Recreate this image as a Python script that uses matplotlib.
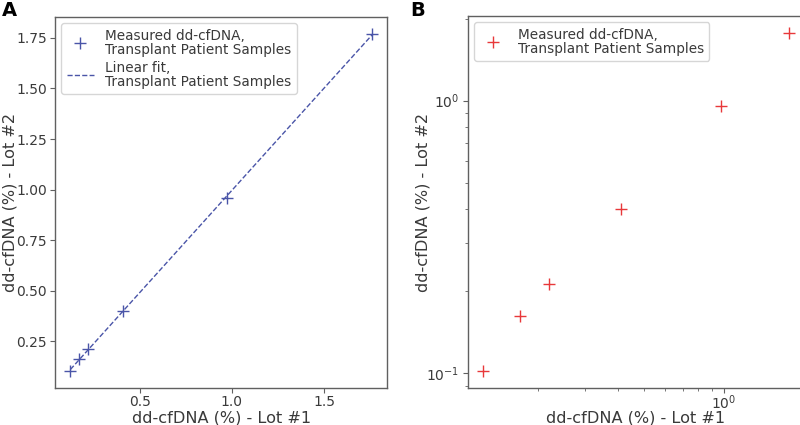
import matplotlib

matplotlib.use("Agg")
import matplotlib.pyplot as plt
import numpy as np

# dd-cfDNA (%) measured with two reagent lots
lot1 = np.array([0.124, 0.170, 0.220, 0.410, 0.975, 1.760])
lot2 = np.array([0.102, 0.163, 0.213, 0.400, 0.960, 1.770])

C_A = "#4a55a8"
C_B = "#e8383a"
TXT = "#3a3a3a"

plt.rcParams.update(
    {
        "font.family": "DejaVu Sans",
        "font.size": 10,
        "text.color": TXT,
        "axes.labelcolor": TXT,
        "axes.edgecolor": "#606060",
        "axes.linewidth": 1.0,
        "xtick.color": "#606060",
        "ytick.color": "#606060",
        "xtick.labelcolor": TXT,
        "ytick.labelcolor": TXT,
        "xtick.labelsize": 10,
        "ytick.labelsize": 10,
        "axes.labelsize": 11.6,
        "legend.fontsize": 9.8,
    }
)

fig = plt.figure(figsize=(8, 4.25), dpi=100)
ax_a = fig.add_axes([0.069, 0.087, 0.415, 0.873])
ax_b = fig.add_axes([0.585, 0.087, 0.42, 0.875])

# panel A: linear axes with fit
slope, intercept = np.polyfit(lot1, lot2, 1)
ax_a.plot(lot1, lot2, "+", color=C_A, markersize=9, mew=1.0,
          label="Measured dd-cfDNA,\nTransplant Patient Samples")
ax_a.plot(lot1, slope * lot1 + intercept, "--", color=C_A, linewidth=1.0,
          label="Linear fit,\nTransplant Patient Samples")
ax_a.set_xticks([0.5, 1.0, 1.5])
ax_a.set_yticks([0.25, 0.5, 0.75, 1.0, 1.25, 1.5, 1.75])

# panel B: log-log
ax_b.plot(lot1, lot2, "+", color=C_B, markersize=9, mew=1.0,
          label="Measured dd-cfDNA,\nTransplant Patient Samples")
ax_b.set_xscale("log")
ax_b.set_yscale("log")

for ax, xpad in ((ax_a, 1.5), (ax_b, 0.3)):
    ax.tick_params(direction="out", length=3.5, pad=2.5)
    ax.tick_params(axis="x", pad=xpad)
    ax.set_xlabel("dd-cfDNA (%) - Lot #1", va="baseline")
    ax.set_ylabel("dd-cfDNA (%) - Lot #2")
    ax.xaxis.set_label_coords(0.5, -0.092)
    ax.yaxis.set_label_coords(-0.113, 0.5)
    leg = ax.legend(loc="upper left", framealpha=0.8, edgecolor="#cccccc",
                    labelspacing=0.3, borderaxespad=0.45)
    for t in leg.get_texts():
        t.set_linespacing(1.0)

fig.text(0.003, 0.998, "A", fontsize=14, fontweight="bold", va="top", color="black")
fig.text(0.513, 0.998, "B", fontsize=14, fontweight="bold", va="top", color="black")

fig.savefig("out.png", dpi=100)
